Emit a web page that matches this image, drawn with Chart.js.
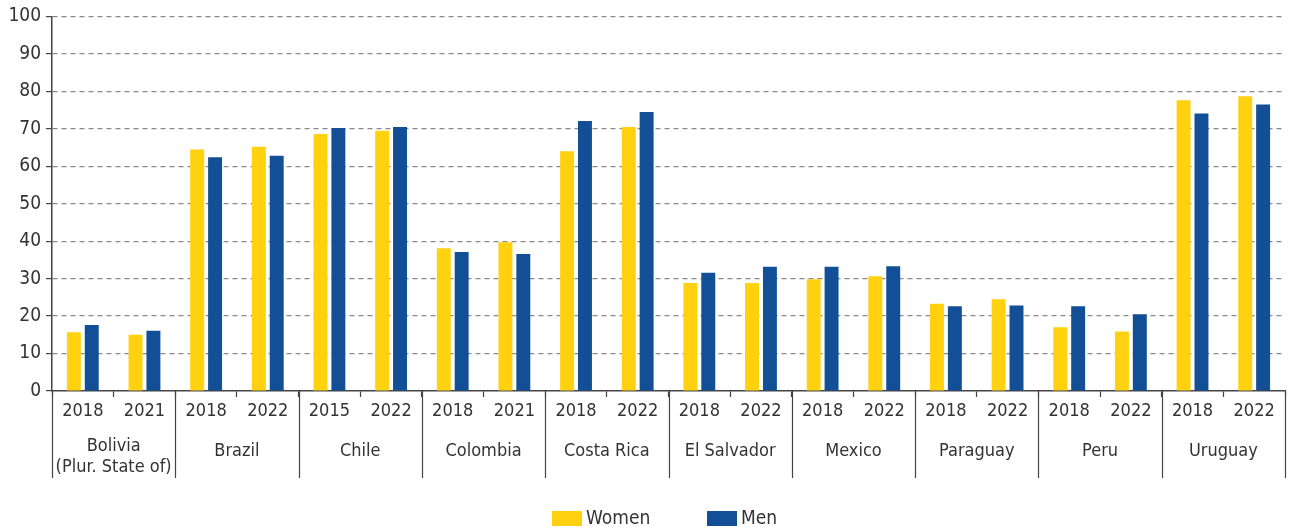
<!DOCTYPE html>
<html>
<head>
<meta charset="utf-8">
<script src="https://cdn.jsdelivr.net/npm/chart.js@4"></script>
<style>
  html, body { margin: 0; padding: 0; background: #fff; }
  #wrap { position: relative; width: 1289px; height: 527px; }
  #legend { position: absolute; left: 0; top: 506px; width: 1289px; font: 19px 'DejaVu Sans Condensed', 'Roboto', sans-serif; color: #333; }
  #legend span { position: absolute; top: 0; line-height: 22px; white-space: nowrap; }
  #legend i { display: inline-block; width: 30px; height: 15px; margin-right: 4px; vertical-align: -2px; }
</style>
</head>
<body>
<div id="wrap">
  <canvas id="participation"></canvas>
  <div id="legend"></div>
</div>
<script>
let countries = [['Bolivia', '(Plur. State of)'], 'Brazil', 'Chile', 'Colombia', 'Costa Rica', 'El Salvador', 'Mexico', 'Paraguay', 'Peru', 'Uruguay'];
let years = ['2018', '2021', '2018', '2022', '2015', '2022', '2018', '2021', '2018', '2022',
             '2018', '2022', '2018', '2022', '2018', '2022', '2018', '2022', '2018', '2022'];
let women = [15.7, 15.0, 64.5, 65.2, 68.6, 69.5, 38.1, 39.7, 64.0, 70.5,
             28.8, 28.8, 29.8, 30.6, 23.3, 24.5, 17.0, 15.9, 77.6, 78.7];
let men = [17.6, 16.1, 62.4, 62.8, 70.2, 70.5, 37.1, 36.6, 72.1, 74.5,
           31.6, 33.2, 33.2, 33.3, 22.6, 22.8, 22.6, 20.5, 74.1, 76.5];
let yTicks = [0, 10, 20, 30, 40, 50, 60, 70, 80, 90, 100];

let fontFamily = "'Liberation Sans Narrow', 'DejaVu Sans Condensed', 'Roboto', sans-serif";
let axisColor = '#444';
let womenColor = '#ffd10f';
let menColor = '#124f96';

// country labels and separators below the year labels
let groupPlugin = {
    id : 'groups',
    afterDraw(chart) {
        let ctx = chart.ctx;
        let x = chart.scales.x;
        let top = x.top;
        let bottom = top + 87;
        let step = x.width / years.length;
        ctx.save();
        ctx.strokeStyle = axisColor;
        ctx.lineWidth = 1.2;
        for (let i = 0; i <= countries.length; i++) {
            let px = Math.round(x.left + i * 2 * step) + 0.5;
            ctx.beginPath();
            ctx.moveTo(px, top);
            ctx.lineTo(px, bottom);
            ctx.stroke();
        }
        ctx.fillStyle = '#333';
        ctx.font = '18px ' + fontFamily;
        ctx.textAlign = 'center';
        ctx.textBaseline = 'middle';
        countries.forEach((c, i) => {
            let cx = x.left + (i * 2 + 1) * step;
            if (Array.isArray(c)) {
                ctx.fillText(c[0], cx, top + 55);
                ctx.fillText(c[1], cx, top + 76);
            } else {
                ctx.fillText(c, cx, top + 60);
            }
        });
        ctx.restore();
    }
};

let config = {
    type : 'bar',
    data : {
        labels : years,
        datasets : [{
            label : 'Women',
            data : women,
            backgroundColor : womenColor,
            borderWidth : 0,
            barPercentage : 0.78,
            categoryPercentage : 0.58
        }, {
            label : 'Men',
            data : men,
            backgroundColor : menColor,
            borderWidth : 0,
            barPercentage : 0.78,
            categoryPercentage : 0.58
        }]
    },
    options : {
        responsive : true,
        maintainAspectRatio : false,
        animation : false,
        layout : {padding : {top : 10, right : 4, left : 0, bottom : 48}},
        plugins : {
            legend : {display : false},
            tooltip : {enabled : false}
        },
        scales : {
            x : {
                grid : {
                    offset : true,
                    drawOnChartArea : false,
                    tickLength : 6,
                    tickColor : axisColor,
                    tickWidth : 1.2
                },
                border : {color : axisColor, width : 1.5},
                ticks : {
                    color : '#333',
                    padding : 4,
                    maxRotation : 0,
                    autoSkip : false,
                    font : {family : fontFamily, size : 18}
                },
                afterFit : (scale) => { scale.height = 88; }
            },
            y : {
                min : 0,
                max : 100,
                afterBuildTicks : (scale) => { scale.ticks = yTicks.map(v => ({value : v})); },
                grid : {
                    color : (c) => c.tick && c.tick.value === 0 ? 'rgba(0,0,0,0)' : '#8a8a8a',
                    lineWidth : 1.2,
                    tickLength : 6,
                    tickColor : axisColor,
                    tickBorderDash : []
                },
                border : {color : axisColor, width : 1.5, dash : [5, 4]},
                ticks : {
                    color : '#333',
                    padding : 5,
                    font : {family : fontFamily, size : 19}
                },
                afterFit : (scale) => { scale.width = 52; }
            }
        }
    },
    plugins : [groupPlugin]
};

let chart = new Chart(document.getElementById('participation').getContext('2d'), config);

// legend as html text below the canvas
let legend = document.getElementById('legend');
[['Women', womenColor, 552], ['Men', menColor, 707]].forEach(([name, color, left]) => {
    let item = document.createElement('span');
    item.style.left = left + 'px';
    item.innerHTML = '<i style="background:' + color + '"></i>' + name;
    legend.appendChild(item);
});
</script>
</body>
</html>
